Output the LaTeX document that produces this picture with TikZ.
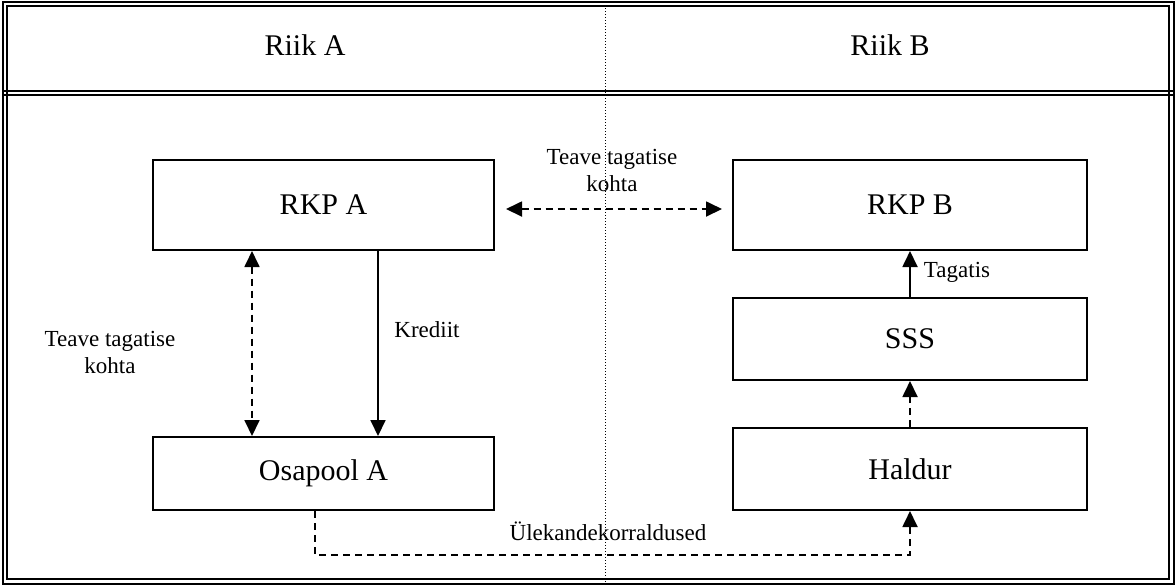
\documentclass[tikz,border=0pt]{standalone}
\usepackage{fontspec}
\setmainfont{Liberation Serif}
\usetikzlibrary{arrows.meta}

\begin{document}
\begin{tikzpicture}[x=0.5pt, y=-0.5pt, every node/.style={font=\fontsize{11.5}{13.5}\selectfont},
  >={Triangle[length=8pt, width=7.5pt]},
  box/.style={draw, line width=1pt, inner sep=0pt, font=\fontsize{15}{18}\selectfont},
  dasharrow/.style={dash pattern=on 3.5pt off 2.5pt, line width=0.9pt},
  frame/.style={line width=0.8pt}]
	\useasboundingbox (0,0) rectangle (1176,586);
	\draw[frame] (3,2) rectangle (1174,584);
	\draw[frame] (7,6) rectangle (1169,579);
	\draw[frame, line width=1.1pt] (3,91) -- (1174,91);
	\draw[frame] (3,95) -- (1174,95);
	\draw[densely dotted, line width=0.5pt] (605,2) -- (605,584);
	\node[font=\fontsize{15}{18}\selectfont] (riikA) at (305,45) {Riik A};
	\node[font=\fontsize{15}{18}\selectfont] (riikB) at (890,45) {Riik B};
	\node[box, minimum width=170.5pt, minimum height=45pt] (rkpA) at (323.5,205) {RKP A};
	\node[box, minimum width=177pt, minimum height=45pt] (rkpB) at (910,205) {RKP B};
	\node[box, minimum width=177pt, minimum height=41pt] (sss) at (910,339) {SSS};
	\node[box, minimum width=177pt, minimum height=41pt] (haldur) at (910,469) {Haldur};
	\node[box, minimum width=170.5pt, minimum height=36.5pt] (osapool) at (323.5,473.5) {Osapool A};
	\coordinate (turn) at (610,555);
	\draw[dasharrow, <->, shorten <=5.5pt, shorten >=5pt] ([yshift=-2pt]rkpA.east) -- ([yshift=-2pt]rkpB.west);
	\draw[dasharrow, <->] ([xshift=50pt]rkpA.south west) -- ([xshift=50pt]osapool.north west);
	\draw[line width=0.9pt, ->] ([xshift=113pt]rkpA.south west) -- ([xshift=113pt]osapool.north west);
	\draw[line width=0.9pt, ->] (sss.north) -- (rkpB.south);
	\draw[dasharrow, ->] (haldur.north) -- (sss.south);
	\draw[dasharrow, ->] ([xshift=81.5pt]osapool.south west) |- (turn) -| (haldur.south);
	\node[align=center] (teaveTop) at (612,170) {Teave tagatise\\kohta};
	\node[align=center] (teaveLeft) at (110,352) {Teave tagatise\\kohta};
	\node (krediit) at (427,330) {Krediit};
	\node (tagatis) at (957,272) {Tagatis};
	\node (ylekanne) at (608,531) {Ülekandekorraldused};
\end{tikzpicture}
\end{document}
